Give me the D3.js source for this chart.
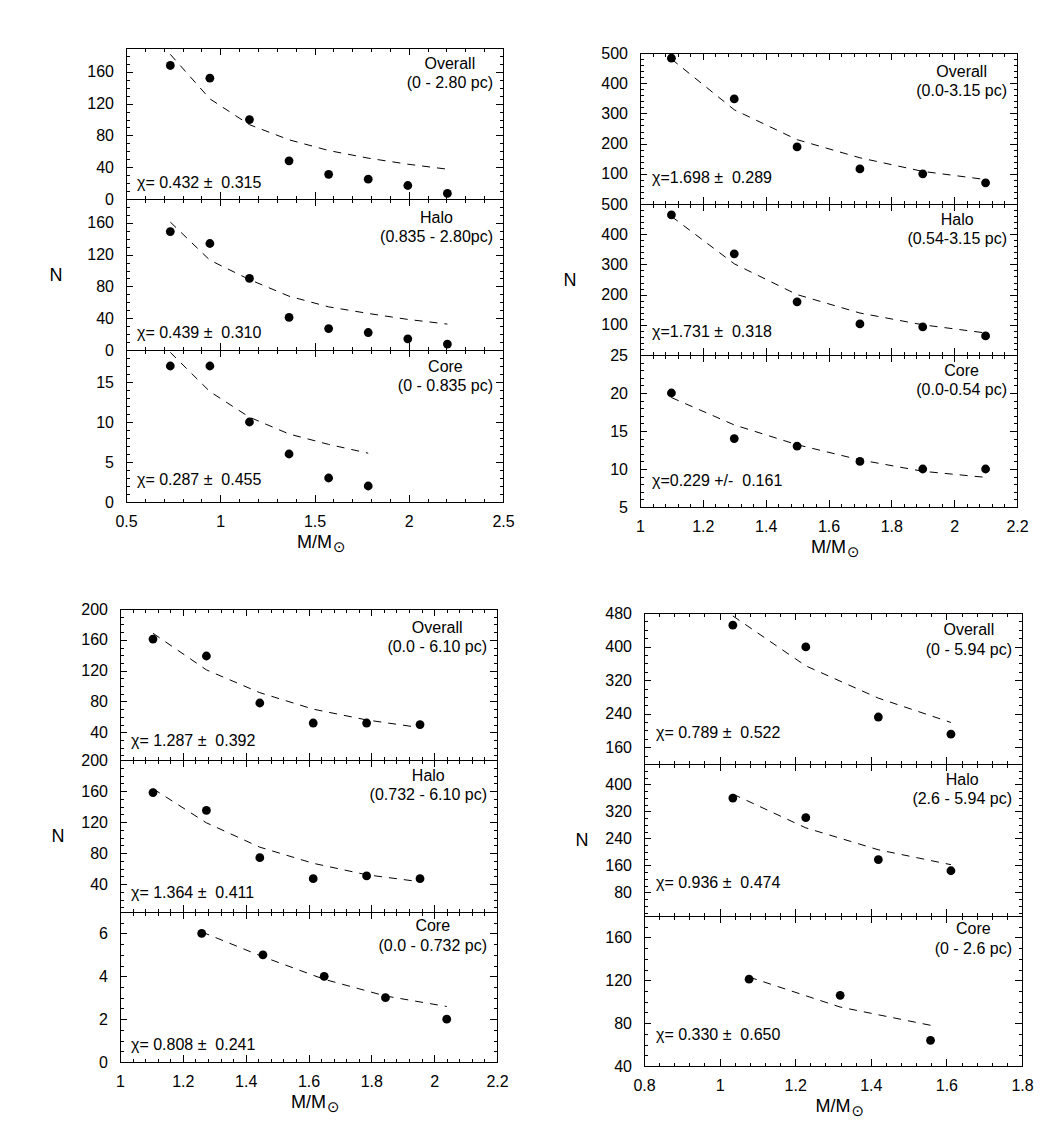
<!DOCTYPE html>
<html><head><meta charset="utf-8">
<script src="https://cdn.jsdelivr.net/npm/d3@7"></script>
<style>
body{margin:0;background:#fff}
svg{display:block}
text{font-family:"Liberation Sans",Arial,sans-serif;fill:#000}
</style>
</head><body>
<svg id="c" width="1062" height="1129"></svg>
<script>
// ---------- Top-left cluster ----------
const aMass        = [0.735, 0.945, 1.155, 1.365, 1.575, 1.785, 1.995, 2.205];
const aOverallN    = [168, 152, 100, 48, 31, 25, 17, 7];
const aOverallFit  = [182, 126, 93.5, 74.5, 61, 51.4, 43.8, 37.5];
const aHaloN       = [149, 134, 90, 41, 27, 22, 14, 7.5];
const aHaloFit     = [161, 113, 88.6, 67.7, 54.3, 46, 38.5, 32.6];
const aCoreMass    = [0.735, 0.945, 1.155, 1.365, 1.575, 1.785];
const aCoreN       = [17, 17, 10, 6, 3, 2];
const aCoreFit     = [18.7, 13.8, 10.6, 8.5, 7.2, 6.1];
const aXTicks      = [0.5, 1, 1.5, 2, 2.5];
const aOverallTicks= [0, 40, 80, 120, 160];
const aHaloTicks   = [0, 40, 80, 120, 160];
const aCoreTicks   = [0, 5, 10, 15];

// ---------- Top-right cluster ----------
const bMass        = [1.1, 1.3, 1.5, 1.7, 1.9, 2.1];
const bOverallN    = [483, 348, 189, 116, 100, 70];
const bOverallFit  = [480, 312, 213, 153, 108, 81];
const bHaloN       = [464, 335, 176, 103, 93, 63];
const bHaloFit     = [459, 302, 200, 139, 100, 73];
const bCoreN       = [20, 14, 13, 11, 10, 10];
const bCoreFit     = [19.4, 15.8, 13.2, 11.2, 9.7, 8.9];
const bXTicks      = [1, 1.2, 1.4, 1.6, 1.8, 2, 2.2];
const bOverallTicks= [100, 200, 300, 400, 500];
const bHaloTicks   = [100, 200, 300, 400, 500];
const bCoreTicks   = [5, 10, 15, 20, 25];

// ---------- Bottom-left cluster ----------
const cMass        = [1.105, 1.275, 1.445, 1.615, 1.785, 1.955];
const cOverallN    = [161, 139, 78, 52, 52, 50];
const cOverallFit  = [168.5, 121, 91.4, 70, 56, 46];
const cHaloN       = [158, 135, 74, 47, 50.5, 47];
const cHaloFit     = [163, 119, 87.6, 66.8, 52, 43];
const cCoreMass    = [1.26, 1.455, 1.65, 1.845, 2.04];
const cCoreN       = [6, 5, 4, 3, 2];
const cCoreFit     = [6.07, 4.91, 3.86, 3.08, 2.59];
const cXTicks      = [1, 1.2, 1.4, 1.6, 1.8, 2, 2.2];
const cOverallTicks= [40, 80, 120, 160, 200];
const cHaloTicks   = [40, 80, 120, 160, 200];
const cCoreTicks   = [0, 2, 4, 6];

// ---------- Bottom-right cluster ----------
const dMass        = [1.035, 1.228, 1.42, 1.612];
const dOverallN    = [451, 399, 232, 191];
const dOverallFit  = [473, 354, 277, 219];
const dHaloN       = [359, 301, 177, 144];
const dHaloFit     = [371, 271, 206, 162];
const dCoreMass    = [1.078, 1.319, 1.558];
const dCoreN       = [121, 106, 64];
const dCoreFit     = [123, 95, 78];
const dXTicks      = [0.8, 1, 1.2, 1.4, 1.6, 1.8];
const dOverallTicks= [160, 240, 320, 400, 480];
const dHaloTicks   = [80, 160, 240, 320, 400];
const dCoreTicks   = [40, 80, 120, 160];

// ---------- figure configuration ----------
const figures = [
  {left:126, right:503, rows:[48,199,350,502], xDomain:[0.5,2.5], xMajor:0.5, xLabels:aXTicks, nDx:70,
   subs:[
    {x:aMass, n:aOverallN, fit:aOverallFit, title:"Overall", range:"(0 - 2.80 pc)", chi:"χ= 0.432 ±  0.315", yDomain:[0,190], major:40, minor:10, labels:aOverallTicks, tDy:15, cDy:17, cDx:11},
    {x:aMass, n:aHaloN, fit:aHaloFit, title:"Halo", range:"(0.835 - 2.80pc)", chi:"χ= 0.439 ±  0.310", yDomain:[0,190], major:40, minor:10, labels:aHaloTicks, tDy:18, cDy:18, cDx:11},
    {x:aCoreMass, n:aCoreN, fit:aCoreFit, title:"Core", range:"(0 - 0.835 pc)", chi:"χ= 0.287 ±  0.455", yDomain:[0,19], major:5, minor:1, labels:aCoreTicks, tDy:16, cDy:23, cDx:11}
   ]},
  {left:640, right:1017, rows:[53,204,355,507], xDomain:[1,2.2], xMajor:0.2, xLabels:bXTicks, nDx:70,
   subs:[
    {x:bMass, n:bOverallN, fit:bOverallFit, title:"Overall", range:"(0.0-3.15 pc)", chi:"χ=1.698 ±  0.289", yDomain:[0,500], major:100, minor:20, labels:bOverallTicks, tDy:18, cDy:27, cDx:12},
    {x:bMass, n:bHaloN, fit:bHaloFit, title:"Halo", range:"(0.54-3.15 pc)", chi:"χ=1.731 ±  0.318", yDomain:[0,500], major:100, minor:20, labels:bHaloTicks, tDy:15, cDy:23.5, cDx:12},
    {x:bMass, n:bCoreN, fit:bCoreFit, title:"Core", range:"(0.0-0.54 pc)", chi:"χ=0.229 +/-  0.161", yDomain:[5,25], major:5, minor:1, labels:bCoreTicks, tDy:15, cDy:26.5, cDx:12}
   ]},
  {left:120, right:497, rows:[609,760,912,1062], xDomain:[1,2.2], xMajor:0.2, xLabels:cXTicks, nDx:62,
   subs:[
    {x:cMass, n:cOverallN, fit:cOverallFit, title:"Overall", range:"(0.0 - 6.10 pc)", chi:"χ= 1.287 ±  0.392", yDomain:[4,200], major:40, minor:10, labels:cOverallTicks, tDy:18, cDy:20, cDx:11},
    {x:cMass, n:cHaloN, fit:cHaloFit, title:"Halo", range:"(0.732 - 6.10 pc)", chi:"χ= 1.364 ±  0.411", yDomain:[4,200], major:40, minor:10, labels:cHaloTicks, tDy:15, cDy:20, cDx:11},
    {x:cCoreMass, n:cCoreN, fit:cCoreFit, title:"Core", range:"(0.0 - 0.732 pc)", chi:"χ= 0.808 ±  0.241", yDomain:[0,7], major:2, minor:0.5, labels:cCoreTicks, tDy:13.5, cDy:18, cDx:11}
   ]},
  {left:644, right:1022, rows:[613,764,916,1066], xDomain:[0.8,1.8], xMajor:0.2, xLabels:dXTicks, nDx:62,
   subs:[
    {x:dMass, n:dOverallN, fit:dOverallFit, title:"Overall", range:"(0 - 5.94 pc)", chi:"χ= 0.789 ±  0.522", yDomain:[120,480], major:80, minor:20, labels:dOverallTicks, tDy:16.5, cDy:32, cDx:12},
    {x:dMass, n:dHaloN, fit:dHaloFit, title:"Halo", range:"(2.6 - 5.94 pc)", chi:"χ= 0.936 ±  0.474", yDomain:[10,460], major:80, minor:20, labels:dHaloTicks, tDy:15, cDy:34, cDx:12},
    {x:dCoreMass, n:dCoreN, fit:dCoreFit, title:"Core", range:"(0 - 2.6 pc)", chi:"χ= 0.330 ±  0.650", yDomain:[40,180], major:40, minor:10, labels:dCoreTicks, tDy:12.5, cDy:32, cDx:12}
   ]}
];

const FONT = 16, MAJ = 7, MIN = 3.5;
const svg = d3.select("#c");
const fmt = d3.format("~g");

function stepTicks(d0, d1, step) {
  const out = [];
  const k0 = Math.ceil(d0 / step - 1e-9), k1 = Math.floor(d1 / step + 1e-9);
  for (let k = k0; k <= k1; k++) out.push(+(k * step).toFixed(6));
  return out;
}
const has = (arr, v) => arr.some(a => Math.abs(a - v) < 1e-6);

function styleAxis(g) {
  g.attr("font-size", FONT).attr("font-family", '"Liberation Sans",Arial,sans-serif');
  g.select(".domain").remove();
  g.selectAll(".tick line").attr("stroke", "#000").attr("stroke-width", 1).attr("shape-rendering", "crispEdges");
  g.selectAll(".tick text").attr("fill", "#000");
}

figures.forEach(fig => {
  const x = d3.scaleLinear().domain(fig.xDomain).range([fig.left, fig.right]);
  const xMaj = stepTicks(fig.xDomain[0], fig.xDomain[1], fig.xMajor);
  const xMin = stepTicks(fig.xDomain[0], fig.xDomain[1], fig.xMajor / 5);

  fig.subs.forEach((s, i) => {
    const top = fig.rows[i], bot = fig.rows[i + 1];
    const y = d3.scaleLinear().domain(s.yDomain).range([bot, top]);
    const yMaj = stepTicks(s.yDomain[0], s.yDomain[1], s.major);
    const yMin = stepTicks(s.yDomain[0], s.yDomain[1], s.minor);
    const g = svg.append("g");
    const isLast = i === fig.subs.length - 1;

    g.append("g").attr("transform", `translate(${fig.left},0)`)
      .call(d3.axisLeft(y).tickValues(yMin).tickSize(-MIN).tickSizeOuter(0).tickFormat("")).call(styleAxis);
    g.append("g").attr("transform", `translate(${fig.left},0)`)
      .call(d3.axisLeft(y).tickValues(yMaj.concat(s.labels.filter(v => !has(yMaj, v)))).tickSize(-MAJ).tickSizeOuter(0).tickPadding(12)
        .tickFormat(d => has(s.labels, d) ? fmt(d) : "")).call(styleAxis);
    g.append("g").attr("transform", `translate(${fig.right},0)`)
      .call(d3.axisRight(y).tickValues(yMin).tickSize(-MIN).tickSizeOuter(0).tickFormat("")).call(styleAxis);
    g.append("g").attr("transform", `translate(${fig.right},0)`)
      .call(d3.axisRight(y).tickValues(yMaj).tickSize(-MAJ).tickSizeOuter(0).tickFormat("")).call(styleAxis);

    g.append("g").attr("transform", `translate(0,${top})`)
      .call(d3.axisTop(x).tickValues(xMin).tickSize(-MIN).tickSizeOuter(0).tickFormat("")).call(styleAxis);
    g.append("g").attr("transform", `translate(0,${top})`)
      .call(d3.axisTop(x).tickValues(xMaj).tickSize(-MAJ).tickSizeOuter(0).tickFormat("")).call(styleAxis);
    g.append("g").attr("transform", `translate(0,${bot})`)
      .call(d3.axisBottom(x).tickValues(xMin).tickSize(-MIN).tickSizeOuter(0).tickFormat("")).call(styleAxis);
    g.append("g").attr("transform", `translate(0,${bot})`)
      .call(d3.axisBottom(x).tickValues(xMaj).tickSize(-MAJ).tickSizeOuter(0).tickPadding(14)
        .tickFormat(d => isLast && has(fig.xLabels, d) ? fmt(d) : "")).call(styleAxis);

    g.append("rect").attr("x", fig.left).attr("y", top).attr("width", fig.right - fig.left).attr("height", bot - top)
      .attr("fill", "none").attr("stroke", "#000").attr("stroke-width", 1).attr("shape-rendering", "crispEdges");

    const pts = s.x.map((v, k) => [v, s.fit[k]]);
    g.append("path").attr("d", d3.line().x(d => x(d[0])).y(d => y(d[1]))(pts))
      .attr("fill", "none").attr("stroke", "#000").attr("stroke-width", 1).attr("stroke-dasharray", "8,7");

    g.selectAll("circle.pt").data(s.x.map((v, k) => [v, s.n[k]])).join("circle").attr("class", "pt")
      .attr("cx", d => x(d[0])).attr("cy", d => y(d[1])).attr("r", 4.4).attr("fill", "#000");

    const l2 = g.append("text").attr("x", fig.right - 10).attr("y", top + s.tDy + 19.5 + 5.5)
      .attr("text-anchor", "end").attr("font-size", FONT).style("white-space", "pre").text(s.range);
    const w2 = l2.node().getComputedTextLength();
    g.append("text").attr("x", fig.right - 10 - w2 / 2).attr("y", top + s.tDy + 5.5)
      .attr("text-anchor", "middle").attr("font-size", FONT).text(s.title);

    g.append("text").attr("x", fig.left + s.cDx).attr("y", bot - s.cDy + 5.5)
      .attr("font-size", FONT).style("white-space", "pre").text(s.chi);
  });

  const rTop = fig.rows[0], rBot = fig.rows[fig.rows.length - 1];
  svg.append("text").attr("x", fig.left - fig.nDx).attr("y", (rTop + rBot) / 2 + 6)
    .attr("text-anchor", "middle").attr("font-size", 18).text("N");

  const cx = (fig.left + fig.right) / 2;
  const xt = svg.append("text").attr("x", cx).attr("y", rBot + 46)
    .attr("text-anchor", "middle").attr("font-size", 18).text("M/M");
  const w = xt.node().getComputedTextLength();
  svg.append("text").attr("x", cx + w / 2 + 1).attr("y", rBot + 50)
    .attr("font-size", 15).style("font-family", '"DejaVu Sans",sans-serif').text("⊙");
});
</script>
</body></html>
